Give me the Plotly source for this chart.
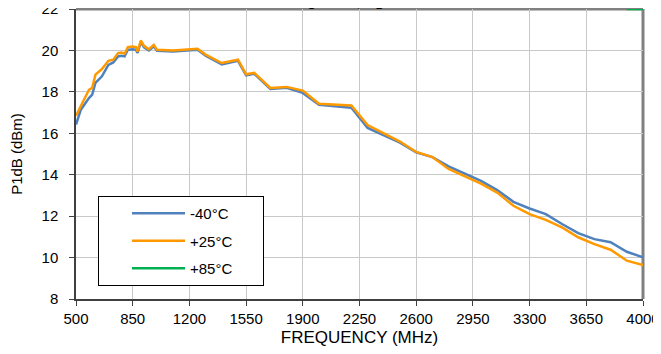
import plotly.graph_objects as go

freq = [500, 530, 580, 600, 620, 660, 700, 730, 760, 780, 800, 820, 850, 870, 880,
        900, 920, 950, 980, 1000, 1100, 1250, 1300, 1400, 1500, 1550, 1600, 1700,
        1800, 1900, 2000, 2200, 2300, 2400, 2500, 2600, 2700, 2800, 2900, 3000,
        3100, 3200, 3300, 3400, 3500, 3600, 3700, 3800, 3900, 4000]

p1db_m40 = [16.42, 17.14, 17.7, 17.87, 18.43, 18.75, 19.3, 19.42, 19.71, 19.74,
            19.71, 20.03, 20.06, 20.03, 19.88, 20.4, 20.15, 20.0, 20.2, 19.98,
            19.95, 20.03, 19.75, 19.33, 19.5, 18.8, 18.87, 18.14, 18.2, 17.95,
            17.38, 17.23, 16.26, 15.92, 15.55, 15.08, 14.85, 14.4, 14.05, 13.7,
            13.26, 12.69, 12.37, 12.1, 11.62, 11.18, 10.89, 10.74, 10.28, 10.01]

p1db_p25 = [16.85, 17.3, 18.1, 18.2, 18.83, 19.1, 19.5, 19.55, 19.87, 19.9,
            19.84, 20.16, 20.19, 20.16, 19.95, 20.48, 20.22, 20.06, 20.27, 20.03,
            20.0, 20.08, 19.8, 19.39, 19.55, 18.85, 18.92, 18.19, 18.24, 18.06,
            17.43, 17.34, 16.4, 16.0, 15.6, 15.1, 14.85, 14.28, 13.94, 13.57,
            13.14, 12.5, 12.1, 11.82, 11.46, 10.98, 10.65, 10.38, 9.85, 9.64]

freq_p85 = [3900, 4000]
p1db_p85 = [22.0, 22.0]

x_ticks = [500, 850, 1200, 1550, 1900, 2250, 2600, 2950, 3300, 3650, 4000]
y_ticks = [8, 10, 12, 14, 16, 18, 20, 22]

FONT = "Liberation Sans, Arial, sans-serif"
pad = "\u00a0" * 6

fig = go.Figure()
fig.add_trace(go.Scatter(x=freq, y=p1db_m40, mode="lines", name="-40°C" + pad,
                         line=dict(color="#4f81bd", width=2.5), legendgroup="a"))
fig.add_trace(go.Scatter(x=freq, y=p1db_p25, mode="lines", name="+25°C" + pad,
                         line=dict(color="#ff9900", width=2.5), legendgroup="b"))
fig.add_trace(go.Scatter(x=freq_p85, y=p1db_p85, mode="lines", name="+85°C" + pad,
                         line=dict(color="#00b050", width=2.5), legendgroup="c",
                         cliponaxis=False))

# page body has an 8px margin: plot area lands at window x 76..643, y 9..299
fig.update_layout(
    width=661, height=354,
    margin=dict(l=68, r=26, t=1, b=63),
    paper_bgcolor="white", plot_bgcolor="white",
    font=dict(family=FONT, size=15, color="black"),
    showlegend=True,
    legend=dict(x=(98 - 76) / 567, y=(299 - 196) / 290, xanchor="left", yanchor="top",
                bordercolor="black", borderwidth=1, bgcolor="white",
                font=dict(size=15), itemwidth=53, indentation=28,
                tracegroupgap=5, traceorder="grouped"),
    xaxis=dict(range=[500, 4000], tickvals=x_ticks, ticktext=[str(v) for v in x_ticks],
               showgrid=True, gridcolor="#c8c8c8", gridwidth=1,
               showline=True, linecolor="#404040", linewidth=1.5,
               ticks="outside", ticklen=5, tickcolor="#404040", automargin=False,
               tickfont=dict(size=15), ticklabeloverflow="allow",
               title=dict(text="FREQUENCY (MHz)", standoff=5, font=dict(size=17)),
               zeroline=False),
    yaxis=dict(range=[8, 22], tickvals=y_ticks,
               showgrid=True, gridcolor="#c8c8c8", gridwidth=1,
               showline=True, linecolor="#404040", linewidth=1.5,
               ticks="outside", ticklen=5, tickcolor="#404040", automargin=False,
               tickfont=dict(size=15), ticklabeloverflow="allow", ticklabelstandoff=8,
               title=dict(text="P1dB (dBm)", standoff=16, font=dict(size=15)),
               zeroline=False),
    shapes=[
        dict(type="line", xref="paper", yref="paper", x0=0, x1=1, y0=1, y1=1,
             layer="below", line=dict(color="#808080", width=3)),
        dict(type="line", xref="paper", yref="paper", x0=1, x1=1, y0=0, y1=1,
             layer="below", line=dict(color="#808080", width=3)),
    ],
    annotations=[
        dict(text="<b>V<sub>S</sub> = 11V, R<sub>L</sub> = 20Ω</b>", xref="paper", yref="paper",
             x=0.506, y=1.025, xanchor="center", yanchor="middle", showarrow=False,
             font=dict(size=15)),
    ],
)

fig.write_html("out.html")
